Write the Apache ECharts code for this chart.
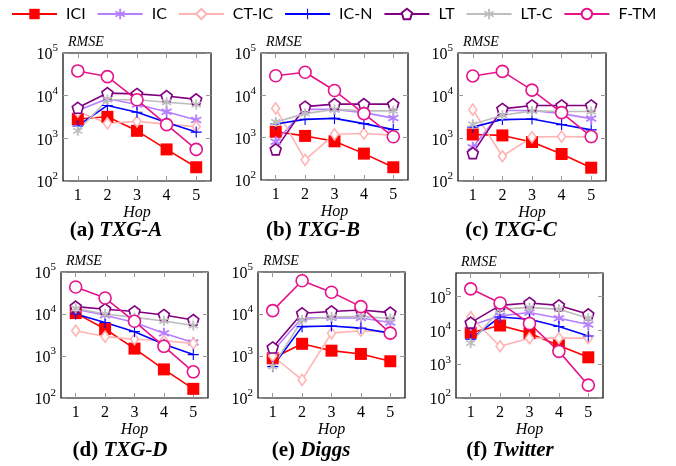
<!DOCTYPE html>
<html lang="en">

<head>
    <meta charset="UTF-8">
    <title>RMSE vs Hop</title>
    <script src="https://cdn.jsdelivr.net/npm/echarts@6/dist/echarts.min.js"></script>
    <style>
        html, body {
            margin: 0;
            padding: 0;
            background: #fff;
        }

        #main {
            width: 676px;
            height: 466px;
        }
    </style>
</head>

<body>
    <div id="main"></div>

    <script>
        // x axis categories and methods (legend order)
        var hops = ['1', '2', '3', '4', '5'];
        var methods = ['ICI', 'IC', 'CT-IC', 'IC-N', 'LT', 'LT-C', 'F-TM'];

        // RMSE per method (rows in methods order)
        var txgA = [
            [2830, 3200, 1500, 550, 210],
            [4500, 8500, 6200, 4200, 2700],
            [4200, 2250, 2500, 2150, 1870],
            [1950, 5900, 4100, 2350, 1400],
            [5200, 11500, 11000, 9800, 8200],
            [1500, 8000, 8000, 7000, 6200],
            [38000, 28000, 8000, 2100, 550]
        ];
        var txgB = [
            [1380, 1100, 820, 420, 200],
            [800, 4650, 4650, 3900, 2900],
            [4900, 300, 1200, 1250, 1150],
            [2100, 2700, 2850, 2150, 1550],
            [530, 5400, 6200, 6200, 6200],
            [2350, 3700, 4650, 4300, 4300],
            [29000, 35000, 13000, 3700, 1050]
        ];
        var txgC = [
            [1230, 1170, 820, 430, 205],
            [620, 4500, 4500, 3800, 2900],
            [4700, 380, 1070, 1100, 1070],
            [1830, 2750, 2830, 2100, 1580],
            [450, 4900, 5900, 5900, 5900],
            [2130, 3470, 4400, 4250, 4250],
            [29000, 37000, 13500, 4000, 1100]
        ];
        var txgD = [
            [10500, 4400, 1500, 480, 165],
            [13000, 9300, 6300, 3500, 2100],
            [4000, 2900, 2500, 2300, 2000],
            [10000, 6300, 3800, 1900, 1080],
            [15000, 13000, 11500, 9500, 7200],
            [13500, 10000, 8300, 6800, 5300],
            [44000, 24000, 6700, 1700, 420]
        ];
        var diggs = [
            [880, 1950, 1340, 1120, 750],
            [1300, 8000, 8200, 8000, 6300],
            [1000, 270, 3500, 4000, 3700],
            [560, 5000, 5200, 4600, 3500],
            [1600, 10400, 11500, 12500, 10800],
            [560, 7200, 8500, 8800, 7800],
            [12000, 62000, 33000, 15000, 3500]
        ];
        var twitter = [
            [8500, 14000, 8300, 3600, 1600],
            [14000, 27000, 34000, 23000, 15000],
            [25000, 3400, 5900, 5900, 5900],
            [5500, 25000, 21500, 13000, 6800],
            [17000, 55000, 65000, 55000, 30000],
            [4200, 42000, 48000, 42000, 23000],
            [170000, 65000, 16000, 2400, 240]
        ];

        var panelTags = ['(a) ', '(b) ', '(c) ', '(d) ', '(e) ', '(f) '];
        var panelNames = ['TXG-A', 'TXG-B', 'TXG-C', 'TXG-D', 'Diggs', 'Twitter'];
        var panelData = [txgA, txgB, txgC, txgD, diggs, twitter];
        var yMax = [1e5, 1e5, 1e5, 1e5, 1e5, 5e5];

        // plot boxes [left, top, width, height]
        var boxes = [
            [63, 53, 148, 128],
            [261, 53, 147, 127],
            [458, 53, 148, 128],
            [61, 272, 147, 126],
            [258, 272, 147, 126],
            [456, 273, 147, 125]
        ];
        // caption centres [x, y]
        var captionPos = [[116, 231], [313, 231], [511, 231], [120, 451], [311, 451], [510, 451]];

        var serif = 'Liberation Serif';

        // marker shapes
        var asterisk = 'path://M-1.6,-10L1.6,-10L1.6,10L-1.6,10Z' +
            'M7.21,-6.39L8.81,-3.61L-7.21,6.39L-8.81,3.61Z' +
            'M8.81,3.61L7.21,6.39L-8.81,-3.61L-7.21,-6.39Z';
        var plus = 'path://M-1,-10L1,-10L1,10L-1,10ZM-10,-1L10,-1L10,1L-10,1Z';
        var pentagon = 'path://M0,-10L9.51,-3.09L5.88,8.09L-5.88,8.09L-9.51,-3.09Z';

        var styles = [
            { color: '#ff0000', symbol: 'rect', size: 12, fill: '#ff0000' },
            { color: '#b57fff', symbol: asterisk, size: 11, fill: '#b57fff' },
            { color: '#ffb3b3', symbol: 'diamond', size: [8, 11], fill: '#fff' },
            { color: '#0000ff', symbol: plus, size: 11, fill: '#0000ff' },
            { color: '#800080', symbol: pentagon, size: 11, fill: '#fff' },
            { color: '#bdbdbd', symbol: asterisk, size: 10, fill: '#bdbdbd' },
            { color: '#e6138b', symbol: 'circle', size: 12, fill: '#fff' }
        ];

        function logLabel(v) {
            var l = Math.log10(v);
            var e = Math.round(l);
            if (Math.abs(l - e) > 1e-6) return '';
            return '{b|10}{s|' + e + '}';
        }

        var grids = [], xAxes = [], yAxes = [], series = [], graphics = [];

        panelData.forEach(function (rows, p) {
            var b = boxes[p];
            grids.push({
                left: b[0], top: b[1], width: b[2], height: b[3],
                show: true, borderColor: '#000', borderWidth: 1.2,
                backgroundColor: 'transparent'
            });
            var tick = { show: true, inside: true, length: 5, alignWithLabel: true, lineStyle: { color: '#999', width: 1 } };
            xAxes.push({
                type: 'category', data: hops, gridIndex: p, boundaryGap: true,
                axisLine: { show: false }, axisTick: tick, splitLine: { show: false },
                axisLabel: { margin: 7, color: '#000', fontFamily: serif, fontSize: 16 },
                name: 'Hop', nameLocation: 'middle', nameGap: 22,
                nameTextStyle: { color: '#000', fontFamily: serif, fontSize: 16, fontStyle: 'italic' }
            });
            xAxes.push({
                type: 'category', data: hops, gridIndex: p, position: 'top', boundaryGap: true,
                axisLine: { show: false }, axisTick: tick, axisLabel: { show: false }, splitLine: { show: false }
            });
            var yTick = { show: true, inside: true, length: 5, lineStyle: { color: '#999', width: 1 } };
            yAxes.push({
                type: 'log', logBase: 10, min: 100, max: yMax[p], gridIndex: p,
                axisLine: { show: false }, axisTick: yTick, splitLine: { show: false }, minorTick: { show: false },
                axisLabel: {
                    margin: 5, formatter: logLabel, showMaxLabel: yMax[p] === 1e5,
                    rich: {
                        b: { fontFamily: serif, fontSize: 16, color: '#000', lineHeight: 20, verticalAlign: 'bottom' },
                        s: { fontFamily: serif, fontSize: 11, color: '#000', lineHeight: 12, verticalAlign: 'top' }
                    }
                },
                name: 'RMSE', nameLocation: 'end', nameGap: 4,
                nameTextStyle: { color: '#000', fontFamily: serif, fontSize: 14, fontStyle: 'italic', align: 'left', padding: [0, 0, 0, 5] }
            });
            yAxes.push({
                type: 'log', logBase: 10, min: 100, max: yMax[p], gridIndex: p, position: 'right',
                axisLine: { show: false }, axisTick: yTick, axisLabel: { show: false }, splitLine: { show: false }
            });
            rows.forEach(function (vals, m) {
                var s = styles[m];
                series.push({
                    name: methods[m], type: 'line', data: vals,
                    xAxisIndex: p * 2, yAxisIndex: p * 2,
                    symbol: s.symbol, symbolSize: s.size, showAllSymbol: true,
                    lineStyle: { color: s.color, width: 1.6 },
                    itemStyle: { color: s.fill, borderColor: s.color, borderWidth: s.fill === '#fff' ? 1.6 : 0 },
                    emphasis: { disabled: true },
                    animation: false
                });
            });
            graphics.push({
                type: 'text', x: captionPos[p][0], y: captionPos[p][1],
                style: {
                    text: '{n|' + panelTags[p] + '}{i|' + panelNames[p] + '}',
                    align: 'center', verticalAlign: 'middle',
                    rich: {
                        n: { fontFamily: serif, fontSize: 21, fontWeight: 'bold', fill: '#000' },
                        i: { fontFamily: serif, fontSize: 21, fontWeight: 'bold', fontStyle: 'italic', fill: '#000' }
                    }
                }
            });
        });

        var myChart = echarts.init(document.getElementById('main'));
        myChart.setOption({
            animation: false,
            legend: {
                data: methods, top: 1, left: 6,
                itemWidth: 45, itemHeight: 13, itemGap: 11,
                textStyle: { fontFamily: 'Lato', fontSize: 16, color: '#000', padding: [0, 0, 0, 4] }
            },
            grid: grids,
            xAxis: xAxes,
            yAxis: yAxes,
            series: series,
            graphic: graphics
        });
    </script>
</body>

</html>
